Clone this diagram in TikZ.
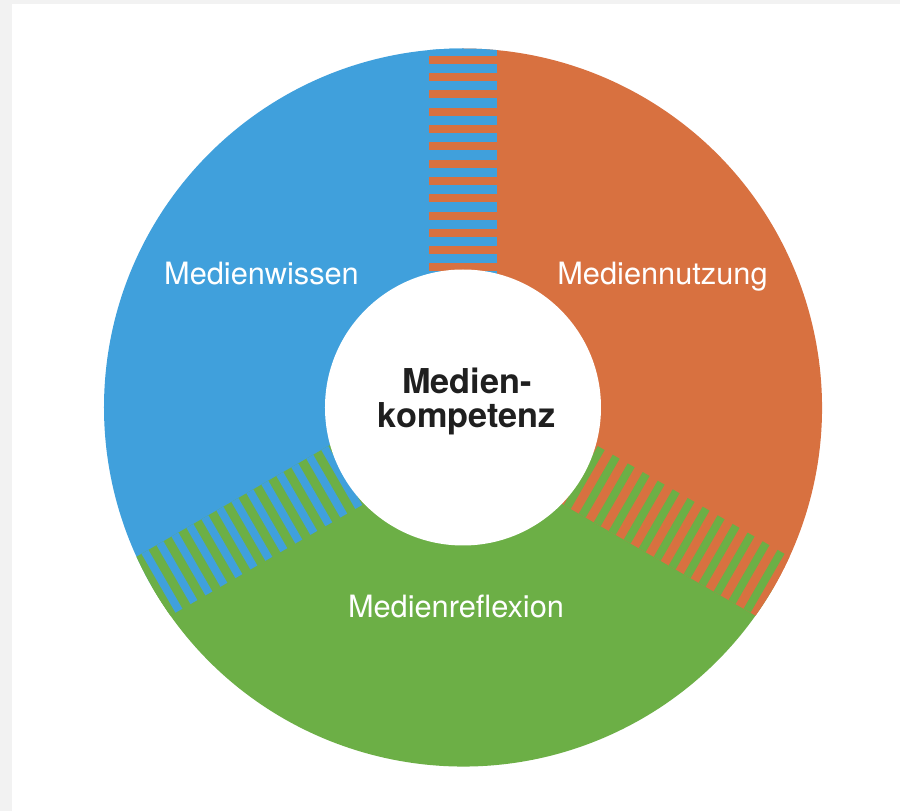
\documentclass[tikz,border=0pt]{standalone}
\usepackage{fontspec}
\setmainfont{TeX Gyre Heros}
\definecolor{wissenblue}{RGB}{64,160,220}
\definecolor{nutzungorange}{RGB}{216,113,64}
\definecolor{reflexiongreen}{RGB}{108,175,70}
\definecolor{pagegray}{RGB}{242,242,242}

\begin{document}
\begin{tikzpicture}[
  field/.style={text=white, font=\fontsize{17.5}{21}\selectfont, anchor=base},
  core/.style={text=black!88, font=\bfseries\fontsize{19.5}{20}\selectfont, anchor=base}
]
  % page and panel
  \fill[pagegray] (-9.26,-8.07) rectangle (8.74,8.15);
  \fill[white] (-9.02,-8.07) rectangle (8.74,8.07);
  \useasboundingbox (-9.26,-8.07) rectangle (8.74,8.15);

  % the three fields
  \fill[wissenblue] (0,0) -- (90:7.18) arc[start angle=90, end angle=210, radius=7.18] -- cycle;
  \fill[reflexiongreen] (0,0) -- (210:7.18) arc[start angle=210, end angle=330, radius=7.18] -- cycle;
  \fill[nutzungorange] (0,0) -- (330:7.18) arc[start angle=330, end angle=450, radius=7.18] -- cycle;

  % striped transitions
  \foreach \ang/\base/\stripe in {0/wissenblue/nutzungorange, 120/reflexiongreen/wissenblue, 240/nutzungorange/reflexiongreen} {
    \begin{scope}[rotate=\ang]
      \clip (0,0) circle (7.18);
      \fill[\base] (-0.68,2.5) rectangle (0.68,7.3);
      \foreach \i in {0,...,12}
        \fill[\stripe] (-0.68,2.72+0.346*\i) rectangle (0.68,2.88+0.346*\i);
    \end{scope}
  }

  % hole
  \fill[white] (0,0) circle (2.76);

  \node[field] (wissen) at (-4.03,2.45) {Medienwissen};
  \node[field] (nutzung) at (3.99,2.45) {Mediennutzung};
  \node[field] (reflexion) at (-0.14,-4.21) {Medienreflexion};

  \node[core] (core top) at (0.08,0.27) {Medien-};
  \node[core] (core bottom) at (0.08,-0.41) {kompetenz};
\end{tikzpicture}
\end{document}
